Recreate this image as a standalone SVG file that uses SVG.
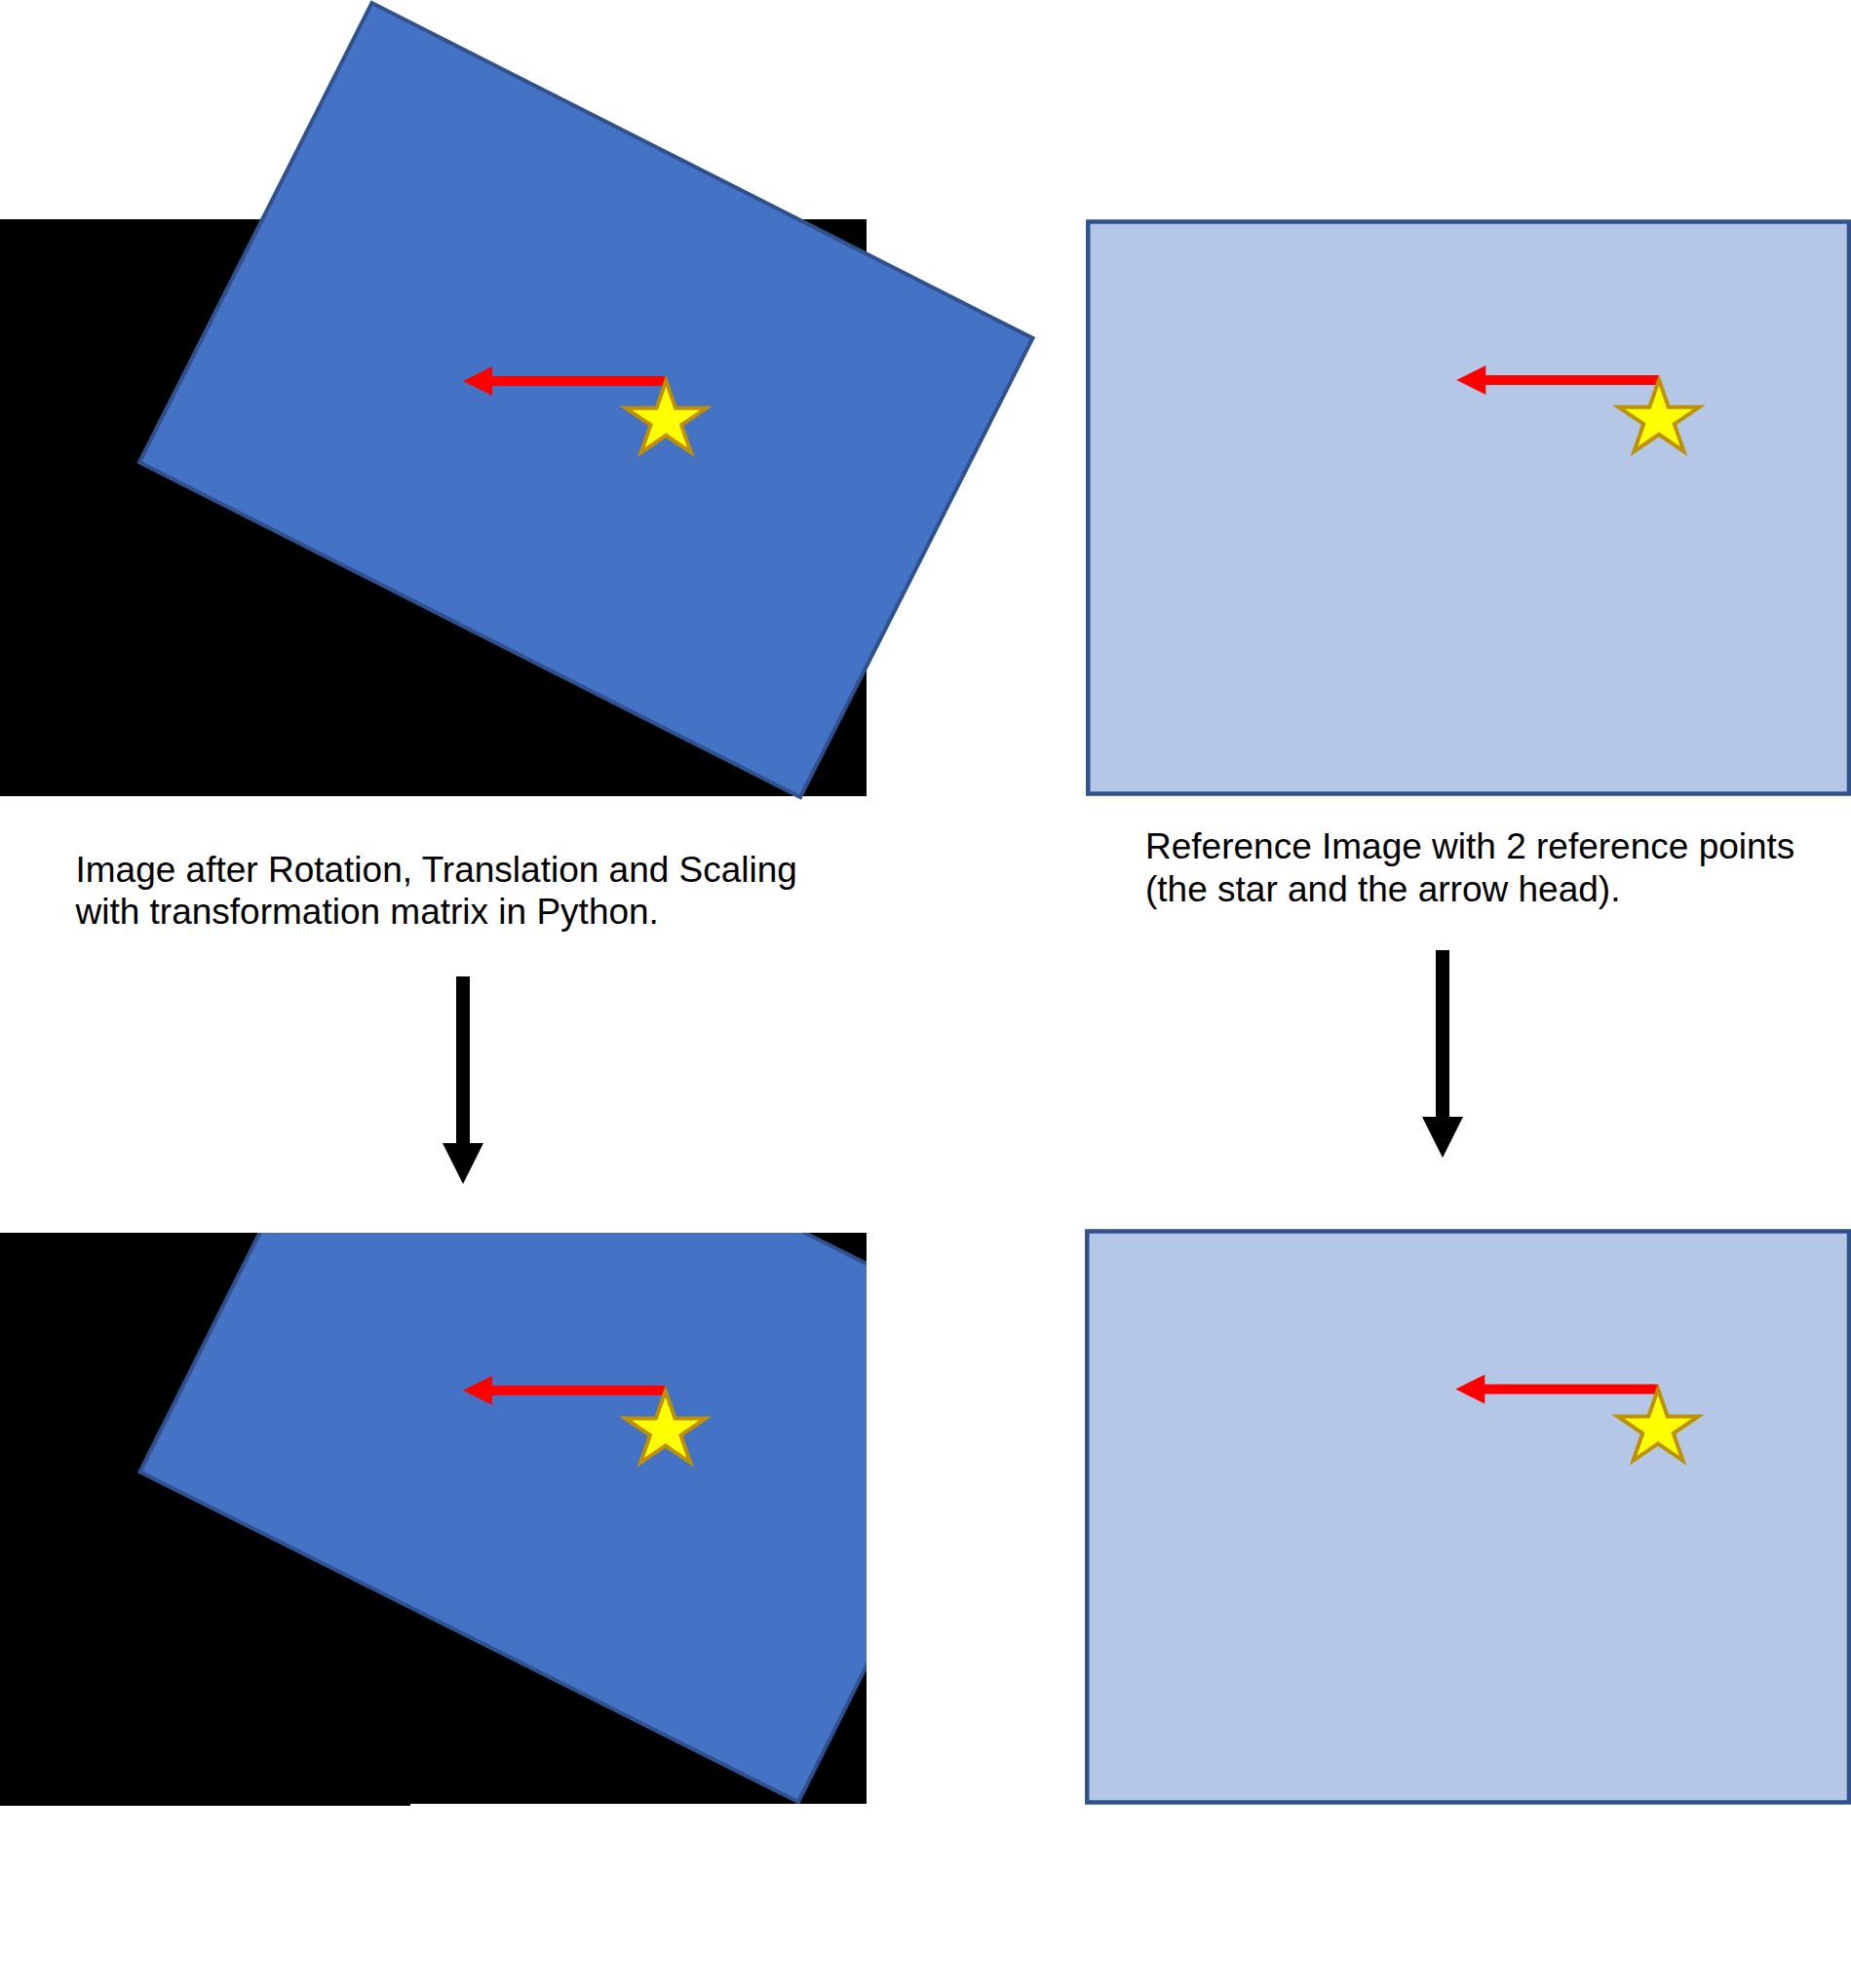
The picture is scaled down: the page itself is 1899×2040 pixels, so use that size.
<svg xmlns="http://www.w3.org/2000/svg" xmlns:xlink="http://www.w3.org/1999/xlink" width="1899" height="2040" viewBox="0 0 1899 2040">
  <style>
    .bg { fill: #000000; }
    .rot { fill: #4472C4; stroke: #2F528F; stroke-width: 4; stroke-linejoin: miter; }
    .ref { fill: #B4C7E7; stroke: #2F528F; stroke-width: 4.5; }
    .star { fill: #FFFF00; stroke: #BF9000; stroke-width: 4; stroke-linejoin: miter; }
    .red { fill: #FF0000; }
    .conn { fill: #000000; }
    .lbl { font-family: "Liberation Sans", Arial, sans-serif; font-size: 37px; fill: #000000; }
  </style>
  <defs>
    <path id="starShape" class="star" d="M0,-40.5 L9.74,-12.5 L41.3,-12.5 L15.75,4.78 L25.5,32.8 L0,15.47 L-25.5,32.8 L-15.75,4.78 L-41.3,-12.5 L-9.74,-12.5 Z"/>
    <path id="redArrow" class="red" d="M0,0 L30,-15 L30,-5 L208,-5 L208,5 L30,5 L30,15 Z"/>
    <clipPath id="clipAligned">
      <rect x="0" y="1265" width="421" height="588"/>
      <rect x="421" y="1265" width="468" height="586"/>
    </clipPath>
  </defs>

  <g id="rotated-image">
    <rect class="bg" x="0" y="225" width="889" height="592"/>
    <polygon class="rot" points="381.5,3 1059.5,347 821,818 143,474.3"/>
    <use xlink:href="#redArrow" href="#redArrow" transform="translate(475,391)"/>
    <use xlink:href="#starShape" href="#starShape" transform="translate(683.3,431.3)"/>
  </g>

  <g id="reference-image">
    <rect class="ref" x="1116.3" y="227.5" width="780.7" height="587"/>
    <use xlink:href="#redArrow" href="#redArrow" transform="translate(1494.3,390)"/>
    <use xlink:href="#starShape" href="#starShape" transform="translate(1702,430.3)"/>
  </g>

  <g id="label-rotated">
    <text class="lbl" x="77.5" y="905">Image after Rotation, Translation and Scaling</text>
    <text class="lbl" x="77.5" y="948.3">with transformation matrix in Python.</text>
  </g>

  <g id="label-reference">
    <text class="lbl" x="1175" y="881">Reference Image with 2 reference points</text>
    <text class="lbl" x="1175" y="925">(the star and the arrow head).</text>
  </g>

  <g id="aligned-image">
    <rect class="bg" x="0" y="1265" width="421" height="588"/>
    <rect class="bg" x="421" y="1265" width="468" height="586"/>
    <g clip-path="url(#clipAligned)">
      <polygon class="rot" points="378.7,1041 1054.2,1379.6 819,1849 143.5,1510.4"/>
    </g>
    <use xlink:href="#redArrow" href="#redArrow" transform="translate(475,1426.7)"/>
    <use xlink:href="#starShape" href="#starShape" transform="translate(682.7,1468)"/>
  </g>

  <g id="reference-image-2">
    <rect class="ref" x="1115.3" y="1263.5" width="781.7" height="586"/>
    <use xlink:href="#redArrow" href="#redArrow" transform="translate(1493.3,1425.5)"/>
    <use xlink:href="#starShape" href="#starShape" transform="translate(1701,1466)"/>
  </g>

  <g id="connectors">
    <path class="conn" d="M468,1002 H482 V1173 H496 L475,1215 L454,1173 H468 Z"/>
    <path class="conn" d="M1473,975 H1487 V1146 H1501 L1480,1188 L1459,1146 H1473 Z"/>
  </g>
</svg>
